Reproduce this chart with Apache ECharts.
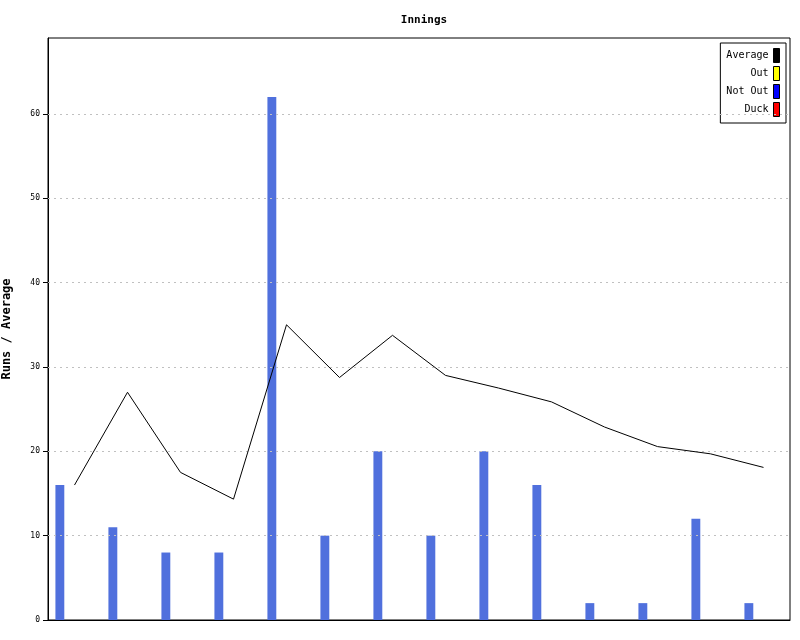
<!DOCTYPE html>
<html>
<head>
<meta charset="utf-8">
<script src="https://cdn.jsdelivr.net/npm/echarts@6/dist/echarts.min.js"></script>
<style>html,body{margin:0;padding:0;background:#fff}#c{width:800px;height:640px}</style>
</head>
<body>
<div id="c"></div>
<script>
var innings = ['1','2','3','4','5','6','7','8','9','10','11','12','13','14'];
var runs    = [16, 11, 8, 8, 62, 10, 20, 10, 20, 16, 2, 2, 12, 2];
var status  = ['Out','Not Out','Out','Out','Not Out','Out','Not Out','Out','Out','Out','Out','Out','Out','Out'];
var average = [16, 27, 17.5, 14.33, 35, 28.75, 33.75, 29, 27.5, 25.86, 22.88, 20.56, 19.7, 18.09];
var gridTicks = [10, 20, 30, 40, 50, 60];
var statusColors = {'Out': '#ffff00', 'Not Out': '#0000ff', 'Duck': '#ff0000'};

var barData = runs.map(function(v, i){
  return {value: v, itemStyle: {color: statusColors[status[i]]}};
});

var FONT = 'DejaVu Sans Mono';
var chart = echarts.init(document.getElementById('c'));
chart.setOption({
  animation: false,
  backgroundColor: '#fff',
  title: {
    text: 'Innings', left: 419, top: 10, textAlign: 'center',
    textStyle: {fontFamily: FONT, fontSize: 11, fontWeight: 'bold', color: '#000'}
  },
  legend: {
    orient: 'vertical', right: 14, top: 43, align: 'right',
    backgroundColor: '#fff', borderColor: '#000', borderWidth: 1,
    padding: [5, 6, 6, 6], itemGap: 3, itemWidth: 6, itemHeight: 14,
    textStyle: {fontFamily: FONT, fontSize: 10, color: '#000'},
    data: [
      {name: 'Average', icon: 'rect', itemStyle: {color: '#000', borderColor: '#000', borderWidth: 1}},
      {name: 'Out', icon: 'rect', itemStyle: {color: statusColors['Out'], borderColor: '#000', borderWidth: 1}},
      {name: 'Not Out', icon: 'rect', itemStyle: {color: statusColors['Not Out'], borderColor: '#000', borderWidth: 1}},
      {name: 'Duck', icon: 'rect', itemStyle: {color: statusColors['Duck'], borderColor: '#000', borderWidth: 1}}
    ]
  },
  grid: {left: 48, right: 10, top: 38, bottom: 20, containLabel: false, outerBoundsMode: 'none',
         show: true, borderColor: '#000', borderWidth: 1},
  xAxis: {
    type: 'category', data: innings, boundaryGap: true,
    axisLine: {lineStyle: {color: '#000', width: 1}},
    axisTick: {show: false}, axisLabel: {show: false}
  },
  yAxis: {
    type: 'value', min: 0, max: 69, interval: 10,
    name: 'Runs / Average', nameLocation: 'middle', nameGap: 35,
    nameTextStyle: {fontFamily: FONT, fontSize: 12, fontWeight: 'bold', color: '#000'},
    axisLine: {show: true, lineStyle: {color: '#000', width: 1}},
    axisTick: {show: true, length: 5, lineStyle: {color: '#000'}},
    axisLabel: {fontFamily: FONT, fontSize: 8, color: '#000', margin: 8, showMaxLabel: false},
    splitLine: {show: false}
  },
  series: [
    {name: 'Runs', type: 'bar', data: barData, barCategoryGap: '28%'},
    {name: 'Out', type: 'bar', data: [], itemStyle: {color: statusColors['Out']}},
    {name: 'Not Out', type: 'bar', data: [], itemStyle: {color: statusColors['Not Out']}},
    {name: 'Duck', type: 'bar', data: [], itemStyle: {color: statusColors['Duck']}},
    {name: 'Average', type: 'line', data: average, symbol: 'none', z: 10,
     lineStyle: {color: '#000', width: 1}, itemStyle: {color: '#000'},
     markLine: {
       silent: true, symbol: ['none', 'none'], label: {show: false}, animation: false,
       lineStyle: {color: '#c0c0c0', type: [2, 4], width: 1},
       data: gridTicks.map(function(t){ return {yAxis: t}; })
     }}
  ]
});
</script>
</body>
</html>
